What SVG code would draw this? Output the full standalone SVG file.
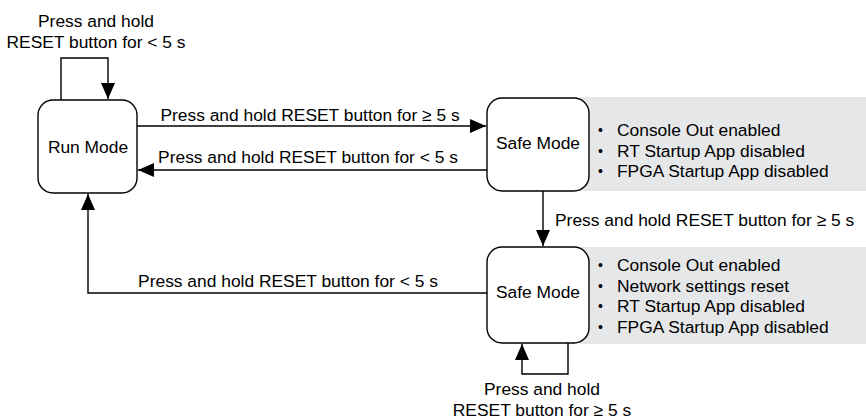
<svg xmlns="http://www.w3.org/2000/svg" width="866" height="420" viewBox="0 0 866 420">
<style>
text{font-family:"Liberation Sans",Arial,sans-serif;font-size:17.4px;fill:#000}
.box{fill:#fff;stroke:#000;stroke-width:1.4}
.panel{fill:#e6e7e8}
.c{fill:none;stroke:#000;stroke-width:1.4}
.m{text-anchor:middle}
.b{font-size:14px}
</style>
<defs>
<marker id="ah" markerUnits="userSpaceOnUse" markerWidth="17" markerHeight="15" refX="16" refY="7" orient="auto" viewBox="0 0 17 15">
<path d="M0,0 L16,7 L0,14 Z" fill="#000"/>
</marker>
</defs>
<rect class="panel" x="580" y="97" width="286" height="94"/>
<rect class="panel" x="580" y="247" width="286" height="97"/>
<g id="connectors">
<path class="c" d="M61,100 V58 H108 V99" marker-end="url(#ah)"/>
<path class="c" d="M137,126 H486" marker-end="url(#ah)"/>
<path class="c" d="M487,170 H138" marker-end="url(#ah)"/>
<path class="c" d="M543,191 V246" marker-end="url(#ah)"/>
<path class="c" d="M487,293 H88 V194" marker-end="url(#ah)"/>
<path class="c" d="M568,343 V374 H522 V344" marker-end="url(#ah)"/>
<text class="m" x="96" y="27">Press and hold</text>
<text class="m" x="96" y="48">RESET button for &lt; 5 s</text>
<text class="m" x="310" y="121">Press and hold RESET button for ≥ 5 s</text>
<text class="m" x="308" y="163">Press and hold RESET button for &lt; 5 s</text>
<text x="555" y="226">Press and hold RESET button for ≥ 5 s</text>
<text class="m" x="288" y="287">Press and hold RESET button for &lt; 5 s</text>
<text class="m" x="542" y="395">Press and hold</text>
<text class="m" x="542" y="415.5">RESET button for ≥ 5 s</text>
</g>
<g id="run">
<rect class="box" x="38" y="100" width="99" height="93" rx="15"/>
<text class="m" x="88" y="153">Run Mode</text>
</g>
<g id="safe1">
<rect class="box" x="487" y="98" width="102" height="93" rx="15"/>
<text class="m" x="538" y="149">Safe Mode</text>
</g>
<g id="safe2">
<rect class="box" x="487" y="247" width="102" height="96" rx="15"/>
<text class="m" x="538" y="298">Safe Mode</text>
</g>
<g id="notes1">
<text><tspan class="b" x="598" y="135">•</tspan><tspan x="617" y="136">Console Out enabled</tspan></text>
<text><tspan class="b" x="598" y="155.5">•</tspan><tspan x="617" y="156.5">RT Startup App disabled</tspan></text>
<text><tspan class="b" x="598" y="176">•</tspan><tspan x="617" y="177">FPGA Startup App disabled</tspan></text>
</g>
<g id="notes2">
<text><tspan class="b" x="598" y="270">•</tspan><tspan x="617" y="271">Console Out enabled</tspan></text>
<text><tspan class="b" x="598" y="290.5">•</tspan><tspan x="617" y="291.5">Network settings reset</tspan></text>
<text><tspan class="b" x="598" y="311">•</tspan><tspan x="617" y="312">RT Startup App disabled</tspan></text>
<text><tspan class="b" x="598" y="331.5">•</tspan><tspan x="617" y="332.5">FPGA Startup App disabled</tspan></text>
</g>
</svg>
